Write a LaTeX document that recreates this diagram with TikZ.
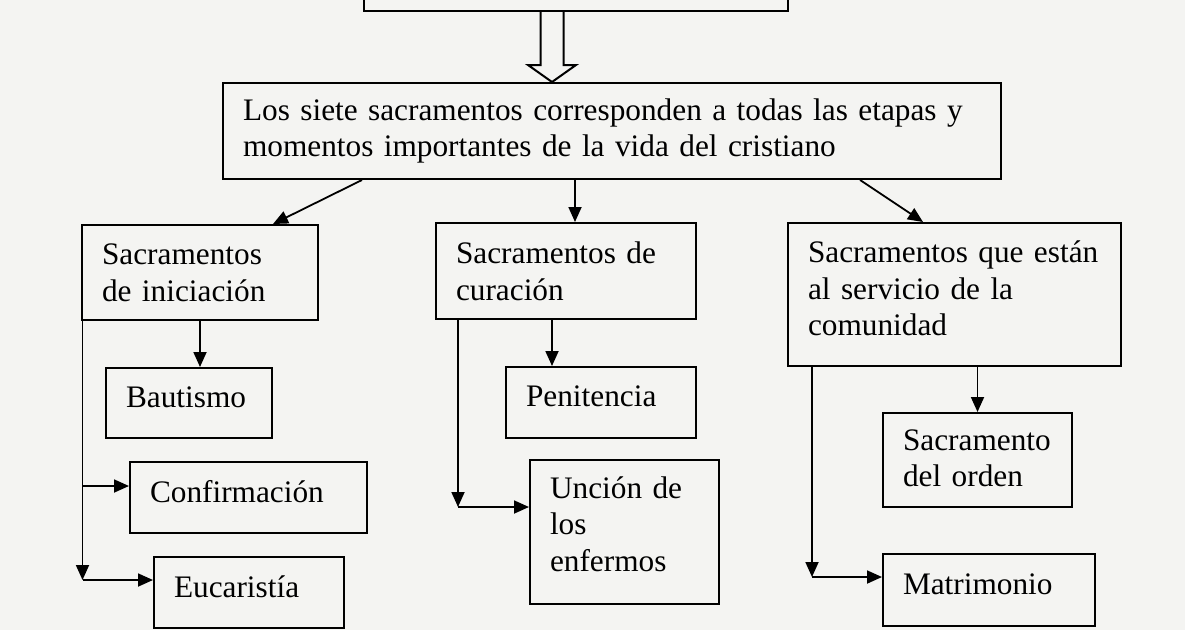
\documentclass[tikz,border=0pt]{standalone}
\usepackage{fontspec}
\setmainfont{Liberation Serif}
\usepackage{tikz}
\usetikzlibrary{arrows.meta, positioning, calc}

\definecolor{paper}{RGB}{244,244,242}
\hyphenpenalty=10000
\exhyphenpenalty=10000

\begin{document}
\begin{tikzpicture}[
    x=1pt, y=-1pt,
    box/.style={draw, line width=2pt, anchor=north west, align=left, inner xsep=20pt, inner ysep=3pt,
        text depth=12pt, font=\fontsize{31.3}{36.5}\selectfont},
    arr/.style={-{Triangle[length=15pt, width=13pt]}, line width=1.8pt},
    >=Stealth
]

% Fondo y marco
\useasboundingbox (0,0) rectangle (1185,630);
\clip (0,0) rectangle (1185,630);
\fill[paper] (0,0) rectangle (1185,630);

% Caja superior (cortada)
\node[box, anchor=south west, minimum width=424pt, minimum height=40pt] (top) at (363,12) {};

% Flecha hueca hacia la caja principal
\draw[line width=2pt, fill=paper] (540.5,12) -- (540.5,65) -- (528,65) -- (552,82) -- (576,65) -- (563.5,65) -- (563.5,12);

% Caja principal
\node[box, text width=738pt, minimum height=96pt, text depth=43.5pt] (main) at (222,82)
    {Los siete sacramentos corresponden a todas las etapas y\\momentos importantes de la vida del cristiano};

% Tres grupos de sacramentos
\node[box, text width=196pt, minimum height=95pt, text depth=36.5pt] (ini) at (81,224) {Sacramentos\\de iniciación};
\node[box, text width=220pt, minimum height=96pt, text depth=36.5pt] (cur) at (435,222) {Sacramentos de\\curación};
\node[box, text width=293pt, minimum height=143pt, text depth=85pt] (com) at (787,222) {Sacramentos que están\\al servicio de la\\comunidad};

% Sacramentos de iniciación
\node[box, text width=126pt, minimum height=70pt] (bau) at (105,367) {Bautismo};
\node[box, text width=197pt, minimum height=71pt] (con) at (129,461) {Confirmación};
\node[box, text width=150pt, minimum height=71pt] (euc) at (153,556) {Eucaristía};

% Sacramentos de curación
\node[box, text width=150pt, minimum height=71pt] (pen) at (505,366) {Penitencia};
\node[box, text width=149pt, minimum height=144pt, text depth=89pt] (unc) at (529,459) {Unción de\\los\\enfermos};

% Sacramentos al servicio de la comunidad
\node[box, text width=149pt, minimum height=94pt, text depth=40.5pt] (ord) at (882,412) {Sacramento\\del orden};
\node[box, text width=172pt, minimum height=72pt] (mat) at (882,553) {Matrimonio};

% Ligaciones principal -> grupos
\draw[arr] ([xshift=140pt]main.south west) -- ([xshift=192pt]ini.north west);
\draw[arr] ([xshift=353pt]main.south west) -- ([xshift=140pt]cur.north west);
\draw[arr] ([xshift=638pt]main.south west) -- ([xshift=136pt]com.north west);

% Iniciación
\coordinate (iniL) at ([xshift=1.5pt]ini.south west);
\coordinate (conIn) at ([yshift=-25pt]con.north west);
\coordinate (eucIn) at ([yshift=-24pt]euc.north west);
\draw[arr] (ini.south) -- (ini.south |- bau.north);
\draw[arr] (iniL) -- (iniL |- eucIn);
\draw[arr] (iniL |- eucIn) -- (eucIn);
\draw[arr] (iniL |- conIn) -- (conIn);

% Curación
\coordinate (curL) at ([xshift=23pt]cur.south west);
\coordinate (uncIn) at ([yshift=-48pt]unc.north west);
\draw[arr] ([xshift=117pt]cur.south west) -- ([xshift=47pt]pen.north west);
\draw[arr] (curL) -- (curL |- uncIn);
\draw[arr] (curL |- uncIn) -- (uncIn);

% Comunidad
\coordinate (comL) at ([xshift=25pt]com.south west);
\coordinate (matIn) at ([yshift=-24pt]mat.north west);
\draw[arr] (com.south -| ord.north) -- (ord.north);
\draw[arr] (comL) -- (comL |- matIn);
\draw[arr] (comL |- matIn) -- (matIn);

\end{tikzpicture}
\end{document}
